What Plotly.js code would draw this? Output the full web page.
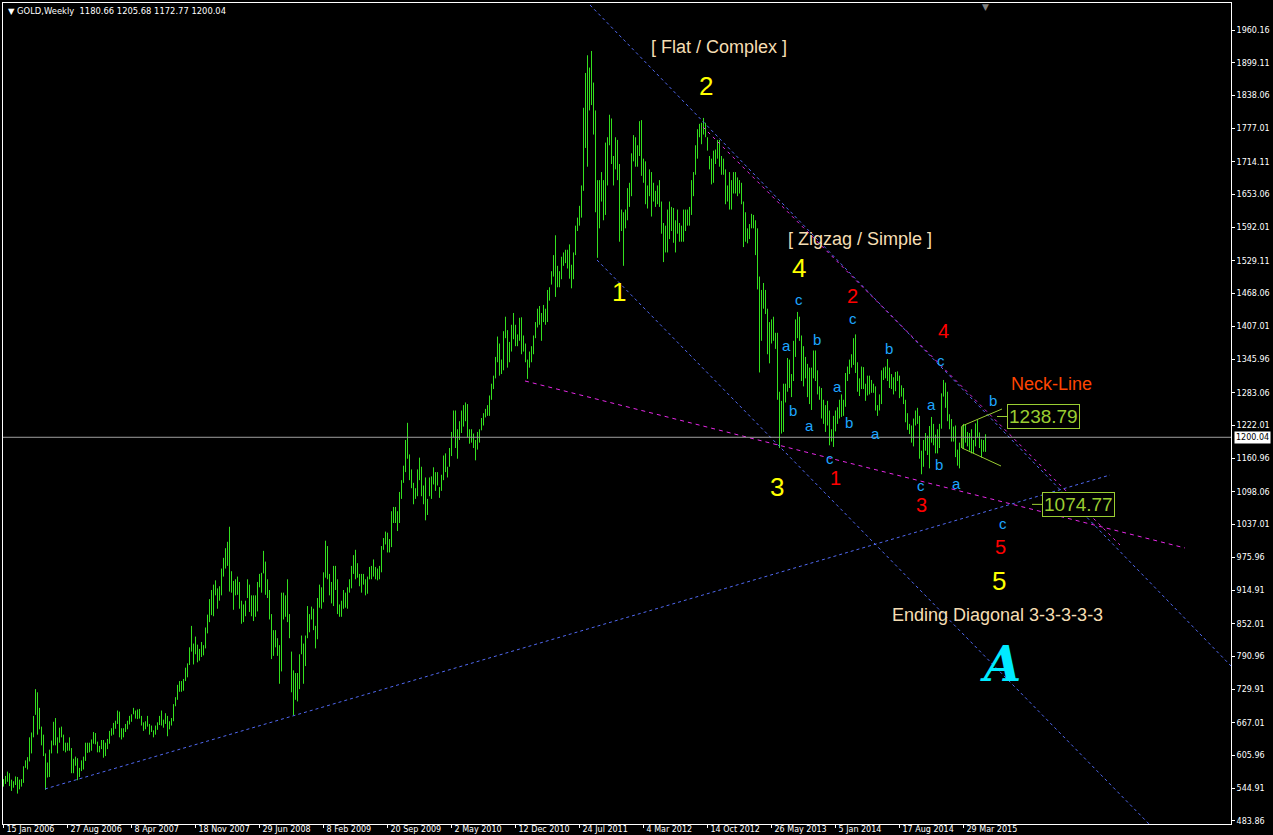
<!DOCTYPE html>
<html><head><meta charset="utf-8">
<script src="https://cdn.plot.ly/plotly-3.0.1.min.js"></script>
<style>html,body{margin:0;padding:0;background:#000;overflow:hidden}#chart{width:1273px;height:835px}</style>
</head><body><div id="chart"></div>
<script>
// ---- Weekly GOLD bars (week index 0 = week of 15 Jan 2006) ----
const hi2006 = [562,568,576,573,561,558,567,566,561,562,586,597,603,640,649,680,730,724,695,660,645,610,593,617,634,669,676,640,658,660,645,630,630,640,620,600,604,601,583,597,604,630,630,630,636,650,648,632,624,635,635];
const lo2006 = [548,553,557,549,540,546,551,535,543,548,555,583,580,595,610,640,682,645,655,625,605,542,565,566,610,625,625,610,630,640,615,612,615,615,573,573,587,560,566,577,580,596,611,612,615,628,627,612,612,618,602];
const hi2007 = [630,637,652,657,667,671,690,688,657,657,665,671,680,683,695,690,692,693,680,668,670,680,665,662,653,662,668,680,690,673,685,680,670,676,702,715,738,745,745,749,770,778,808,848,815,828,813,805,818,812,845,869];
const lo2007 = [605,618,628,643,645,656,665,640,636,640,650,655,664,669,683,675,674,675,662,652,655,660,645,650,640,645,654,663,662,658,665,642,655,662,670,698,710,725,725,727,745,752,775,800,776,795,780,783,790,793,806,834];
const hi2008 = [898,915,925,933,918,922,955,975,993,1005,1033,950,932,935,940,930,895,888,895,935,925,905,905,905,930,945,947,988,968,935,915,870,840,840,825,812,910,910,905,935,870,800,765,760,760,795,830,815,830,885,870,884];
const lo2008 = [855,868,866,905,880,895,905,940,955,960,912,910,878,905,906,880,852,855,866,900,874,866,857,865,875,920,910,946,906,900,860,786,792,808,792,740,763,860,865,855,825,724,681,710,707,730,795,740,773,825,836,860];
const hi2009 = [880,848,900,925,920,948,1007,997,945,930,960,960,935,888,895,915,910,920,935,960,980,990,965,945,945,945,935,940,958,960,972,958,955,960,997,1012,1024,1022,1010,1062,1070,1070,1062,1098,1120,1147,1195,1227,1168,1140,1115,1105];
const lo2009 = [840,806,823,882,880,892,938,935,905,890,885,915,870,865,865,880,882,880,910,918,945,935,938,922,910,925,905,908,935,935,940,935,933,935,948,990,1000,985,985,995,1040,1040,1025,1040,1085,1115,1135,1160,1120,1105,1075,1085];
const hi2010 = [1140,1162,1145,1110,1125,1085,1125,1127,1144,1135,1135,1107,1130,1166,1170,1145,1180,1210,1250,1250,1215,1230,1250,1260,1265,1262,1215,1215,1207,1195,1210,1215,1236,1245,1253,1260,1278,1300,1315,1350,1388,1375,1345,1398,1425,1400,1378,1410,1432,1410,1392,1423];
const lo2010 = [1090,1120,1090,1075,1045,1055,1090,1085,1112,1100,1110,1087,1100,1120,1135,1125,1145,1165,1200,1180,1160,1195,1208,1220,1230,1200,1188,1190,1180,1157,1177,1190,1213,1222,1237,1240,1240,1270,1290,1310,1340,1315,1318,1325,1385,1330,1340,1360,1383,1370,1370,1380];
const hi2011 = [1424,1390,1375,1345,1360,1370,1390,1415,1440,1445,1432,1447,1440,1475,1480,1510,1540,1577,1520,1510,1537,1545,1550,1550,1560,1522,1545,1595,1610,1632,1670,1815,1880,1913,1890,1921,1862,1810,1680,1680,1695,1680,1750,1760,1802,1795,1725,1760,1755,1710,1625,1620];
const lo2011 = [1355,1360,1340,1309,1330,1340,1355,1385,1405,1410,1380,1415,1410,1415,1455,1485,1500,1462,1480,1480,1495,1520,1525,1515,1496,1478,1495,1540,1585,1595,1610,1660,1740,1705,1810,1820,1765,1620,1535,1590,1640,1605,1615,1670,1745,1710,1670,1700,1680,1565,1585,1520];
const hi2012 = [1625,1665,1675,1730,1764,1760,1745,1790,1792,1720,1715,1670,1700,1695,1675,1660,1670,1680,1640,1600,1595,1625,1640,1630,1628,1605,1625,1600,1595,1625,1625,1625,1630,1680,1695,1745,1775,1785,1787,1796,1787,1760,1725,1720,1735,1737,1755,1755,1725,1720,1700,1670,1695];
const lo2012 = [1590,1605,1630,1650,1715,1705,1705,1725,1688,1675,1635,1627,1650,1612,1640,1630,1635,1630,1580,1527,1545,1545,1570,1585,1563,1545,1580,1565,1565,1565,1585,1595,1595,1615,1650,1690,1720,1760,1747,1765,1760,1735,1700,1672,1675,1710,1720,1705,1690,1690,1635,1640,1625];
const hi2013 = [1680,1695,1695,1685,1680,1675,1640,1620,1590,1598,1617,1615,1605,1590,1500,1475,1488,1475,1440,1415,1420,1425,1395,1395,1285,1268,1300,1300,1348,1345,1318,1380,1420,1434,1425,1390,1370,1350,1337,1330,1330,1362,1362,1325,1295,1292,1270,1260,1268,1250,1215,1240];
const lo2013 = [1625,1655,1655,1650,1655,1635,1555,1565,1562,1570,1590,1590,1540,1476,1321,1380,1440,1430,1355,1338,1375,1380,1365,1270,1180,1207,1210,1265,1285,1292,1275,1305,1350,1385,1380,1305,1295,1310,1275,1262,1251,1310,1305,1280,1270,1235,1225,1210,1222,1185,1192,1182];
const hi2014 = [1250,1256,1270,1280,1270,1320,1332,1345,1355,1385,1392,1340,1310,1332,1331,1300,1315,1315,1307,1300,1295,1260,1280,1325,1330,1332,1346,1330,1318,1312,1322,1323,1315,1297,1292,1270,1245,1225,1222,1235,1250,1255,1240,1175,1195,1208,1203,1221,1238,1225,1205,1215];
const lo2014 = [1211,1225,1235,1238,1240,1257,1305,1318,1330,1335,1320,1285,1277,1290,1290,1268,1278,1280,1283,1283,1250,1240,1250,1262,1307,1310,1305,1292,1290,1280,1286,1305,1273,1276,1262,1228,1214,1206,1190,1183,1222,1225,1160,1131,1145,1175,1167,1142,1190,1185,1170,1170];
const hi2015 = [1225,1282,1307,1302,1285,1243,1234,1220,1222,1177,1190,1220,1225,1224,1210,1208,1215,1195,1226,1232,1209,1196,1195,1205.68];
const lo2015 = [1180,1216,1276,1255,1230,1215,1192,1192,1163,1147,1142,1180,1178,1190,1183,1175,1170,1170,1183,1200,1180,1162,1173,1172.77];

// ---- Axis labels ----
const xTickLabels = ['15 Jan 2006','27 Aug 2006','8 Apr 2007','18 Nov 2007','29 Jun 2008','8 Feb 2009','20 Sep 2009','2 May 2010','12 Dec 2010','24 Jul 2011','4 Mar 2012','14 Oct 2012','26 May 2013','5 Jan 2014','17 Aug 2014','29 Mar 2015'];
const xTickWeeks = [0,32,64,96,128,160,192,224,256,288,320,352,384,416,448,480];
const yTickVals = [1960.16,1899.11,1838.06,1777.01,1714.11,1653.06,1592.01,1529.11,1468.06,1407.01,1345.96,1283.06,1222.01,1160.96,1098.06,1037.01,975.96,914.91,852.01,790.96,729.91,667.01,605.96,544.91,483.86];
const headerText = '▼ GOLD,Weekly  1180.66 1205.68 1172.77 1200.04';
const lastPrice = 1200.04;
const lastWeek = 491;

// ---- Wave labels ----
const yellowText = ['2','1','4','3','5'];
const yellowWeek = [351.25,307.75,397.75,386.75,497.75];
const yellowPrice = [1855.6,1471.2,1516.0,1107.2,931.8];
const redText = ['2','1','3','4','5'];
const redWeek = [424.25,415.75,458.75,469.75,498.25];
const redPrice = [1463.7,1124.0,1073.6,1398.4,995.2];
const blueText = ['c','a','b','b','a','c','a','b','c','b','a','c','a','b','c','a','b','c'];
const blueWeek = [397.75,391.25,406.75,394.75,402.75,424.75,416.75,422.75,413.25,442.75,435.75,468.75,463.75,467.75,458.75,476.25,494.75,499.75];
const bluePrice = [1458.1,1370.4,1383.4,1250.9,1221.1,1420.8,1293.9,1226.7,1161.3,1366.6,1208.0,1344.2,1262.1,1148.3,1110.9,1114.6,1269.6,1040.0];
const noteText = ['[ Flat / Complex ]','[ Zigzag / Simple ]','Ending Diagonal 3-3-3-3-3'];
const noteWeek = [357.75,428.25,496.75];
const notePrice = [1928.4,1570.1,868.3];
const neckWeek = 523.75, neckPrice = 1299.5;
const logoWeek = 498.25, logoPrice = 776.9;

// ---- Price labels (arrow price objects) ----
const priceLabelVals = [1238.79, 1074.77];
const priceLabelWeek = [496.75, 514.25];

// ---- Trend lines: [week0, price0, week1, price1] ----
const chanUpper = [293.25, 2006.8, 614.75, 769.4];
const chanLower = [296.75, 1530.9, 573.25, 476.4];
const longSupport = [20.75, 543.6, 553.25, 1129.6];
const magentaUpper = [349.75, 1779.1, 558.25, 999.0];
const magentaLower = [260.75, 1305.1, 590.75, 993.4];
const triUpper = [479.25, 1221.1, 499.25, 1252.8];
const triLower = [479.25, 1180.0, 498.75, 1146.4];

const highs = [].concat(hi2006,hi2007,hi2008,hi2009,hi2010,hi2011,hi2012,hi2013,hi2014,hi2015);
const lows = [].concat(lo2006,lo2007,lo2008,lo2009,lo2010,lo2011,lo2012,lo2013,lo2014,lo2015);
if (highs.length !== 492 || lows.length !== 492) throw new Error('count ' + highs.length + ' ' + lows.length);

const bx = [], by = [];
highs.forEach((h, i) => { bx.push(i, i, null); by.push(lows[i], h, null); });

function lineTrace(seg, color, dash, width) {
  return {type:'scatter', mode:'lines', x:[seg[0], seg[2]], y:[seg[1], seg[3]],
    line:{color:color, width:width||1, dash:dash}, hoverinfo:'skip'};
}

const traces = [
  {type:'scatter', mode:'lines', x:bx, y:by, line:{color:'#33e01e', width:1}, hoverinfo:'skip', connectgaps:false},
  lineTrace(longSupport, '#5068f0', '3px,3px'),
  lineTrace(chanLower, '#5068f0', '3px,3px'),
  lineTrace(chanUpper, '#5068f0', '3px,3px'),
  lineTrace(magentaUpper, '#e628e6', '3px,4px'),
  lineTrace(magentaLower, '#e628e6', '4px,4px'),
  lineTrace(triUpper, '#9acd32', 'solid'),
  lineTrace(triLower, '#9acd32', 'solid'),
  {type:'scatter', mode:'lines', x:[triUpper[0], triLower[0]], y:[triUpper[1], triLower[1]], line:{color:'#9acd32', width:1}, hoverinfo:'skip'}
];
priceLabelVals.forEach((p, k) => {
  traces.push({type:'scatter', mode:'lines', x:[priceLabelWeek[k], priceLabelWeek[k] + 5], y:[p, p], line:{color:'#9acd32', width:1}, hoverinfo:'skip'});
});

const annotations = [];
const FONT = 'Liberation Sans, Arial, sans-serif';
yellowText.forEach((t, k) => annotations.push({x:yellowWeek[k], y:yellowPrice[k], text:t, showarrow:false, font:{family:FONT, size:26, color:'#ffff00'}}));
redText.forEach((t, k) => annotations.push({x:redWeek[k], y:redPrice[k], text:t, showarrow:false, font:{family:FONT, size:20, color:'#ff0000'}}));
blueText.forEach((t, k) => annotations.push({x:blueWeek[k], y:bluePrice[k], text:t, showarrow:false, font:{family:FONT, size:15, color:'#1ea6ff'}}));
noteText.forEach((t, k) => annotations.push({x:noteWeek[k], y:notePrice[k], text:t, showarrow:false, font:{family:FONT, size:18, color:'#f5deb3'}}));
annotations.push({x:neckWeek, y:neckPrice, text:'Neck-Line', showarrow:false, font:{family:FONT, size:18, color:'#ff4500'}});
annotations.push({x:logoWeek, y:logoPrice, text:'<b><i>A</i></b>', showarrow:false, font:{family:'DejaVu Serif, serif', size:48, color:'#00eaff'}});
priceLabelVals.forEach((p, k) => annotations.push({x:priceLabelWeek[k] + 5, y:p, xanchor:'left', text:p.toFixed(2), showarrow:false,
  bordercolor:'#9acd32', borderwidth:1, borderpad:1, bgcolor:'#000', font:{family:FONT, size:19, color:'#9acd32'}}));
annotations.push({xref:'paper', yref:'paper', x:0, y:1, xanchor:'left', yanchor:'top', xshift:3, yshift:-1, text:headerText, showarrow:false,
  font:{family:'DejaVu Sans, sans-serif', size:8.4, color:'#ffffff'}});
annotations.push({xref:'paper', x:1, y:lastPrice, xanchor:'left', xshift:3, text:lastPrice.toFixed(2), showarrow:false,
  bgcolor:'#ffffff', borderpad:1, font:{family:'DejaVu Sans, sans-serif', size:8, color:'#000000'}});
annotations.push({x:lastWeek, yref:'paper', y:1, yanchor:'top', yshift:3, text:'▼', showarrow:false, font:{family:'DejaVu Sans', size:9, color:'#808080'}});

const layout = {
  width:1273, height:835,
  margin:{l:3, r:42, t:3, b:11},
  paper_bgcolor:'#000000', plot_bgcolor:'#000000',
  showlegend:false, dragmode:false, hovermode:false,
  xaxis:{range:[-0.25, 613.75], showgrid:false, zeroline:false, showline:true, mirror:true, linecolor:'#ffffff', linewidth:1,
    tickmode:'array', tickvals:xTickWeeks, ticktext:xTickLabels, ticks:'outside', ticklen:3, tickcolor:'#ffffff',
    ticklabelposition:'outside right', ticklabelstandoff:-3, ticklabelshift:2, tickfont:{family:'DejaVu Sans, sans-serif', size:8, color:'#ffffff'}, automargin:false, fixedrange:true},
  yaxis:{range:[478.24, 2010.55], side:'right', showgrid:false, zeroline:false, showline:true, mirror:true, linecolor:'#ffffff', linewidth:1,
    tickmode:'array', tickvals:yTickVals, ticktext:yTickVals.map(v => v.toFixed(2)), ticks:'outside', ticklen:3, tickcolor:'#ffffff',
    tickfont:{family:'DejaVu Sans, sans-serif', size:8, color:'#ffffff'}, automargin:false, fixedrange:true},
  shapes:[{type:'line', xref:'paper', x0:0, x1:1, y0:lastPrice, y1:lastPrice, line:{color:'#a0a0a0', width:1}}],
  annotations:annotations
};

Plotly.newPlot('chart', traces, layout, {staticPlot:true, displayModeBar:false});
</script></body></html>
